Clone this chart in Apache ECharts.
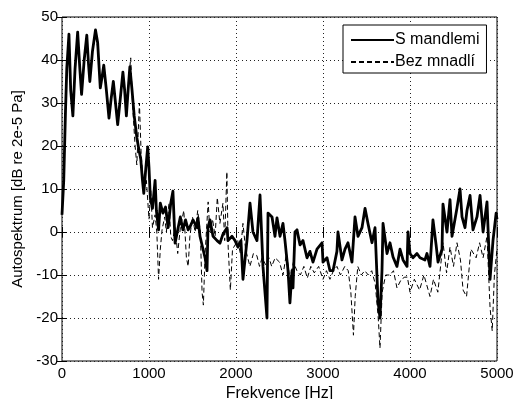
<!DOCTYPE html>
<html>
<head>
<meta charset="utf-8">
<script src="https://cdn.jsdelivr.net/npm/echarts@6/dist/echarts.min.js"></script>
<style>
  html, body { margin: 0; padding: 0; background: #fff; }
  #chart { width: 515px; height: 399px; }
</style>
</head>
<body>
<div id="chart"></div>
<script>
// Autospectrum of the recorded signal, [frequency Hz, level dB re 2e-5 Pa]
const seriesNames = ['S mandlemi', 'Bez mnadlí'];

const withTonsils = [
  [0, 4], [20, 12], [40, 28], [55, 38], [80, 46], [100, 33], [125, 27], [150, 38],
  [180, 46.5], [205, 38], [225, 32], [255, 40], [285, 45.8], [305, 39], [320, 35],
  [350, 42], [385, 47], [410, 44], [440, 33.5], [460, 36], [480, 38.8], [510, 33],
  [540, 26.5], [565, 31], [590, 35], [615, 30], [640, 25], [670, 31], [700, 37.2],
  [720, 33], [740, 27], [760, 33], [780, 38.4], [805, 33], [830, 27], [860, 22],
  [885, 19], [905, 17], [925, 12], [940, 9], [960, 14], [985, 19.8], [1000, 15],
  [1015, 8], [1040, 5.5], [1070, 12], [1085, 5], [1110, 0.5], [1130, 6.7], [1160, 4.4],
  [1190, 5.8], [1220, 1], [1250, 6.7], [1275, 9.5], [1300, -2.6], [1330, 0.5],
  [1360, 3.5], [1390, 0.5], [1420, 2.8], [1450, 0.5], [1471, 1.2], [1506, 2.8],
  [1552, 1], [1563, 3.3], [1586, -1], [1621, -4], [1645, -6], [1667, -9], [1678, 1],
  [1701, 2.8], [1736, -1], [1782, -2], [1816, -2.6], [1850, -0.5], [1897, 1],
  [1908, -2], [1954, -1], [1989, -2], [2023, -3.5], [2057, -2], [2080, -11],
  [2126, -2], [2161, 6.7], [2195, 0], [2241, -2], [2276, 8.6], [2310, -8],
  [2356, -20], [2368, 4.4], [2414, 3.5], [2448, -1], [2471, 3.3], [2506, -1],
  [2540, 2], [2563, -2], [2598, -9], [2620, -16.5], [2644, -9], [2655, -13],
  [2678, 0], [2701, 0.5], [2736, -3], [2770, -2], [2816, -6], [2850, -4.5],
  [2885, -7], [2931, -4], [2989, -2.5], [3000, -7], [3046, -6], [3080, -9],
  [3115, -9], [3160, -4.5], [3172, 0], [3218, -6.5], [3253, -4], [3287, -2.5],
  [3333, -7], [3368, 3.5], [3402, -1], [3448, 1], [3483, 5.5], [3517, 2],
  [3563, -2.5], [3598, 1], [3632, -16], [3655, -20], [3678, -9], [3690, 2],
  [3736, -5], [3770, -2.5], [3805, -5.8], [3850, -8], [3885, -4], [3920, -6.5],
  [3966, -8], [3977, 0], [4000, -5], [4034, -6], [4080, -5], [4115, -6],
  [4172, -6.5], [4195, -5], [4230, -8], [4264, 2.8], [4300, -3], [4322, -7],
  [4368, -4], [4379, 6.5], [4425, 0], [4460, 7.5], [4483, -1], [4540, 5.6],
  [4575, 10], [4598, 3.5], [4632, 1], [4655, 5], [4690, 8.5], [4724, 0.5],
  [4770, 3.5], [4805, 8.5], [4840, 0], [4885, 7], [4920, -11], [4954, -2],
  [4990, 4.4], [5000, 3]
];

const withoutTonsils = [
  [0, 4], [20, 12], [40, 28], [55, 37], [80, 45], [100, 33], [125, 27.5], [150, 37],
  [180, 45.5], [205, 38], [225, 32.5], [255, 40], [285, 45], [305, 39], [320, 35.5],
  [350, 42], [385, 46], [410, 43], [440, 34], [460, 36], [480, 38], [510, 33],
  [540, 27], [565, 31], [590, 34.5], [615, 30], [640, 25.5], [670, 31], [700, 36.5],
  [720, 33], [740, 27.5], [760, 34], [790, 40.5], [810, 30], [840, 20], [860, 15.6],
  [890, 30], [910, 18], [940, 10], [970, 12], [1000, 3], [1020, 10], [1040, 1],
  [1070, 4], [1090, 0], [1110, -11], [1130, -4], [1150, 0.5], [1180, 3.5], [1200, 0],
  [1230, 6.7], [1250, -1], [1270, -2], [1300, 1], [1330, -5], [1360, 1], [1400, 5],
  [1430, -6], [1450, -8], [1470, -1], [1500, 3.5], [1530, 0], [1560, 5], [1590, 0],
  [1610, -14], [1625, -17], [1645, -5], [1680, 7], [1700, 0], [1730, 3], [1760, -1],
  [1785, 8], [1815, 2], [1850, 6.7], [1870, -2], [1895, 14], [1910, -3.5],
  [1935, -13.5], [1960, -4], [1990, -3], [2020, -2], [2050, -5], [2080, 2],
  [2110, -4], [2160, -8], [2200, -5], [2240, -5.5], [2270, -8], [2300, -6],
  [2340, -7.6], [2380, -6], [2410, -8], [2450, -6], [2500, -7], [2540, -10],
  [2580, -5], [2620, -11], [2660, -7], [2700, -9], [2740, -10], [2780, -8],
  [2820, -10.7], [2860, -8], [2900, -9.5], [2950, -8], [3000, -11], [3040, -9],
  [3080, -11], [3120, -9], [3160, -8], [3200, -10], [3250, -8], [3290, -9],
  [3320, -14], [3350, -24], [3370, -15], [3400, -8], [3440, -10], [3480, -9],
  [3520, -10], [3560, -9], [3600, -12], [3635, -20], [3655, -27], [3680, -14],
  [3720, -10], [3770, -10], [3810, -9], [3850, -13], [3900, -11], [3940, -10.5],
  [3970, -10.5], [4000, -14], [4050, -11], [4110, -13.5], [4160, -10], [4230, -15],
  [4270, -11], [4320, -14], [4380, -2.5], [4420, -9.5], [4460, -3.5], [4500, -8],
  [4540, -2.5], [4580, -6.5], [4610, -13.5], [4650, -15], [4700, -4], [4760, -6],
  [4800, -2.5], [4840, -6], [4885, -1], [4920, -17.5], [4945, -23], [4970, -10],
  [5000, -4]
];

const xTicks = [0, 1000, 2000, 3000, 4000, 5000];
const yTicks = [-30, -20, -10, 0, 10, 20, 30, 40, 50];

const FONT = 'Liberation Sans, Arial, Helvetica, sans-serif';
const chart = echarts.init(document.getElementById('chart'), null, { renderer: 'canvas' });

const xRange = { min: xTicks[0], max: xTicks[xTicks.length - 1], interval: xTicks[1] - xTicks[0] };
const yRange = { min: yTicks[0], max: yTicks[yTicks.length - 1], interval: yTicks[1] - yTicks[0] };

const dotted = { show: true, lineStyle: { color: '#222', width: 1, type: [1, 3] } };
const innerTick = { show: true, inside: true, length: 5, lineStyle: { color: '#000', width: 1 } };
const plainNumber = v => String(v);

chart.setOption({
  animation: false,
  backgroundColor: '#fff',
  textStyle: { fontFamily: FONT },
  grid: {
    left: 62, right: 18, top: 17, bottom: 38,
    containLabel: false, outerBoundsMode: 'none',
    show: true, borderColor: '#000', borderWidth: 1, backgroundColor: 'transparent'
  },
  legend: {
    orient: 'vertical',
    left: 343, top: 25,
    data: seriesNames,
    itemWidth: 43, itemHeight: 16, itemGap: 6,
    padding: [7, 7, 3, 7],
    backgroundColor: '#fff',
    borderColor: '#000', borderWidth: 1, borderRadius: 0,
    itemStyle: { opacity: 0 },
    textStyle: { fontFamily: FONT, fontSize: 16, color: '#000', padding: [0, 0, 0, -4] }
  },
  xAxis: [{
    type: 'value', ...xRange,
    name: 'Frekvence [Hz]', nameLocation: 'middle', nameGap: 24,
    nameTextStyle: { fontFamily: FONT, fontSize: 16, color: '#000' },
    axisLine: { show: false },
    axisTick: innerTick,
    axisLabel: { fontFamily: FONT, fontSize: 15, color: '#000', margin: 5, formatter: plainNumber },
    splitLine: dotted
  }, {
    type: 'value', ...xRange, position: 'top',
    axisLine: { show: false }, axisTick: innerTick,
    axisLabel: { show: false }, splitLine: { show: false }
  }],
  yAxis: [{
    type: 'value', ...yRange,
    name: 'Autospektrum [dB re 2e-5 Pa]', nameLocation: 'middle', nameGap: 37,
    nameTextStyle: { fontFamily: FONT, fontSize: 15, color: '#000' },
    axisLine: { show: false },
    axisTick: innerTick,
    axisLabel: { fontFamily: FONT, fontSize: 15, color: '#000', margin: 4, formatter: plainNumber },
    splitLine: dotted
  }, {
    type: 'value', ...yRange, position: 'right',
    axisLine: { show: false }, axisTick: innerTick,
    axisLabel: { show: false }, splitLine: { show: false }
  }],
  series: [{
    name: seriesNames[0],
    type: 'line',
    data: withTonsils,
    symbol: 'none',
    z: 3,
    lineStyle: { color: '#000', width: 2.8, join: 'round' },
    itemStyle: { color: '#000' }
  }, {
    name: seriesNames[1],
    type: 'line',
    data: withoutTonsils,
    symbol: 'none',
    z: 2,
    lineStyle: { color: '#000', width: 1, type: [5, 3] },
    itemStyle: { color: '#000' }
  }]
});
</script>
</body>
</html>
